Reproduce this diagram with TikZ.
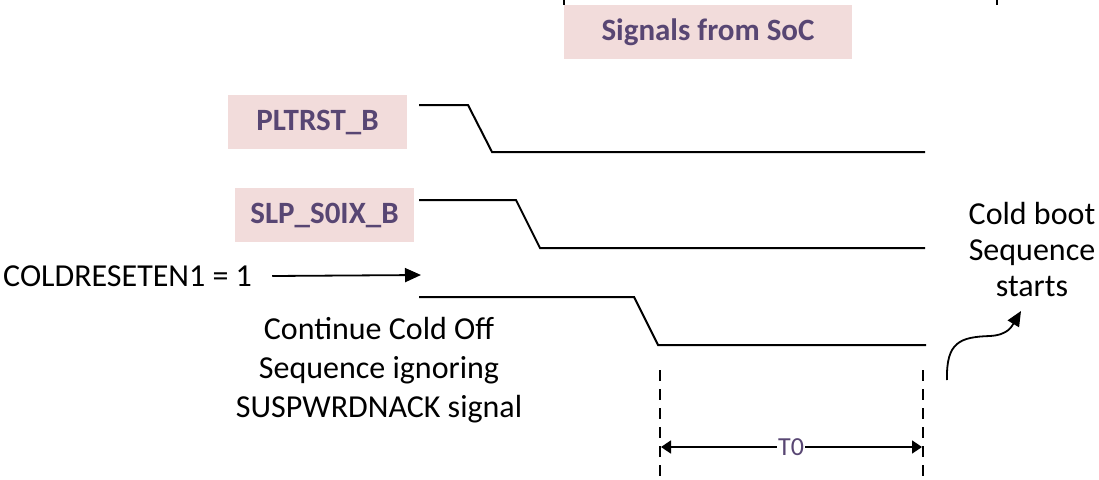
\documentclass[tikz,border=0pt]{standalone}
\usepackage{fontspec}
\setmainfont{Carlito}
\usetikzlibrary{arrows.meta,positioning}
\definecolor{boxpink}{HTML}{F2DCDB}
\definecolor{sigpurple}{HTML}{584673}

\begin{document}
\begin{tikzpicture}[x=1pt,y=-1pt,
        sigbox/.style={fill=boxpink,text=sigpurple,inner sep=0pt,minimum height=54pt,
                font=\bfseries\fontsize{31}{38}\selectfont},
        wave/.style={line width=2pt},
        note/.style={align=center,inner sep=0pt,font=\fontsize{32}{39}\selectfont},
        timeline/.style={line width=2pt,dash pattern=on 11pt off 8pt}]
        \useasboundingbox (0,0) rectangle (1099,479);
        % signal boxes
        \node[sigbox,minimum width=288pt] (soc) at (708,32) {Signals from SoC};
        \node[sigbox,minimum width=179pt] (pltrst) at (317.5,122) {PLTRST\_B};
        \node[sigbox,minimum width=179pt] (slp) at (324.5,215) {SLP\_S0IX\_B};
        \draw[line width=2pt] (564,-2) -- (564,5);
        \draw[line width=2pt] (997,-2) -- (997,5);
        % waveforms
        \coordinate (pltrststart) at (419,105);
        \coordinate (slpstart) at (419,200);
        \coordinate (coldstart) at (419,297);
        \draw[wave] (pltrststart) -- (468,105) -- (492,152) -- (925,152);
        \draw[wave] (slpstart) -- (516,200) -- (540,248) -- (925,248);
        \draw[wave] (coldstart) -- (634,297) -- (658,345) -- (926,345);
        % texts
        \node[note,anchor=west] (coldreset) at (3,276) {COLDRESETEN1 = 1};
        \coordinate (coldtip) at (421,275);
        \draw[line width=1.8pt,-{Triangle[length=16pt,width=14pt]}] ([xshift=20pt]coldreset.east) -- (coldtip);
        \node[note] (ignore) at (379,370) {Continue Cold Off\\Sequence ignoring\\SUSPWRDNACK signal};
        \node[note,font=\fontsize{32}{36}\selectfont] (boot) at (1032,250) {Cold boot\\Sequence\\starts};
        % timing
        \coordinate (ta) at (660,370);
        \coordinate (tb) at (923,370);
        \draw[timeline] (ta) -- (660,479);
        \draw[timeline] (tb) -- (923,479);
        \node[text=sigpurple,fill=white,inner sep=1pt,font=\fontsize{26}{30}\selectfont] (tzero) at (791,447) {T0};
        \draw[line width=1.8pt,-{Triangle[length=10pt,width=13pt]}] (tzero.west) -- (661,447);
        \draw[line width=1.8pt,-{Triangle[length=10pt,width=13pt]}] (tzero.east) -- (922,447);
        \coordinate (curlstart) at (947,380);
        \draw[line width=1.8pt,-{Triangle[length=15pt,width=13pt]}] (curlstart) .. controls (946,342) and (960,337) .. (990,336) .. controls (1008,335) and (1012,326) .. (1021,311);
\end{tikzpicture}
\end{document}
